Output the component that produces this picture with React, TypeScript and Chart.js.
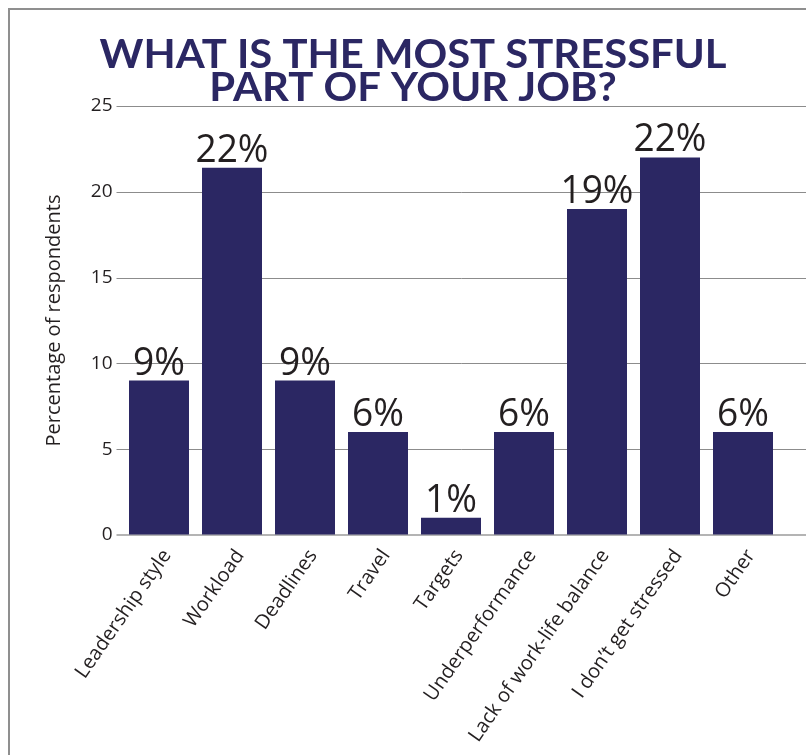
import React, { useEffect, useRef } from 'react';
import { Chart, registerables } from 'chart.js';
Chart.register(...registerables);

const categories = ['Leadership style', 'Workload', 'Deadlines', 'Travel', 'Targets', 'Underperformance', 'Lack of work-life balance', 'I don’t get stressed', 'Other'];
const values = [9, 21.4, 9, 6, 1, 6, 19, 22, 6];
const valueLabels = ['9%', '22%', '9%', '6%', '1%', '6%', '19%', '22%', '6%'];
const titleLines = ['WHAT IS THE MOST STRESSFUL', 'PART OF YOUR JOB?'];
const yAxisTitle = 'Percentage of respondents';
const yMin = 0;
const yMax = 25;
const yStep = 5;

const NAVY = '#2b2763';
const TEXT = '#231f20';
const FONT = '"Open Sans", "Noto Sans", sans-serif';
const TITLE_FONT = 'Lato, "Open Sans", sans-serif';

const framePlugin = {
  id: 'frame',
  beforeDraw(chart: any) {
    const { ctx, width, height } = chart;
    ctx.save();
    ctx.fillStyle = '#ffffff';
    ctx.fillRect(0, 0, width, height);
    ctx.strokeStyle = '#8f8f8f';
    ctx.lineWidth = 2;
    ctx.beginPath();
    ctx.moveTo(9, height);
    ctx.lineTo(9, 9);
    ctx.lineTo(width, 9);
    ctx.stroke();
    ctx.restore();
  },
};

const gridPlugin = {
  id: 'gridFull',
  beforeDatasetsDraw(chart: any) {
    const { ctx, width, chartArea } = chart;
    const y = chart.scales.y;
    ctx.save();
    y.ticks.forEach((t: any) => {
      const zero = t.value === 0;
      const py = zero ? Math.round(y.getPixelForValue(t.value)) : Math.round(y.getPixelForValue(t.value)) + 0.5;
      ctx.strokeStyle = zero ? '#b4b4b4' : '#8c8c8c';
      ctx.lineWidth = zero ? 2 : 1;
      ctx.beginPath();
      ctx.moveTo(chartArea.left - 6, py);
      ctx.lineTo(width, py);
      ctx.stroke();
    });
    ctx.restore();
  },
};

const valueLabelPlugin = {
  id: 'valueLabels',
  afterDatasetsDraw(chart: any) {
    const { ctx } = chart;
    const meta = chart.getDatasetMeta(0);
    ctx.save();
    ctx.font = `39px ${FONT}`;
    ctx.fillStyle = TEXT;
    ctx.textAlign = 'center';
    ctx.textBaseline = 'alphabetic';
    meta.data.forEach((bar: any, i: number) => {
      const text = valueLabels[i];
      const w = ctx.measureText(text).width;
      const target = text.length === 3 ? 73 : 52;
      const sx = target / w;
      ctx.save();
      ctx.translate(bar.x, bar.y - 6);
      ctx.scale(sx, 1);
      ctx.fillText(text, 0, 0);
      ctx.restore();
    });
    ctx.restore();
  },
};

const titlePlugin = {
  id: 'bigTitle',
  afterDraw(chart: any) {
    const { ctx } = chart;
    ctx.save();
    ctx.font = `bold 41px ${TITLE_FONT}`;
    ctx.fillStyle = NAVY;
    ctx.textAlign = 'center';
    ctx.textBaseline = 'alphabetic';
    const w1 = ctx.measureText(titleLines[0]).width;
    const sx = 627 / w1;
    const baselines = [68, 101];
    titleLines.forEach((line, i) => {
      ctx.save();
      ctx.translate(413, baselines[i]);
      ctx.scale(sx, 1);
      ctx.fillText(line, 0, 0);
      ctx.restore();
    });
    ctx.restore();
  },
};

export default function App() {
  const ref = useRef<HTMLCanvasElement | null>(null);
  useEffect(() => {
    if (!ref.current) return;
    const chart = new Chart(ref.current, {
      type: 'bar',
      data: {
        labels: categories,
        datasets: [
          {
            data: values,
            backgroundColor: NAVY,
            borderWidth: 0,
            categoryPercentage: 1,
            barPercentage: 60 / 73,
          },
        ],
      },
      options: {
        responsive: false,
        animation: false,
        layout: { padding: { top: 106, right: 26.5, bottom: 0, left: 0 } },
        plugins: {
          legend: { display: false },
          tooltip: { enabled: false },
          title: { display: false },
        },
        scales: {
          x: {
            grid: { display: false },
            border: { display: false },
            ticks: {
              minRotation: 55,
              maxRotation: 55,
              color: TEXT,
              font: { family: FONT, size: 20 },
              padding: 2,
              labelOffset: 8,
            },
            afterFit(scale: any) {
              scale.height = 220;
            },
          },
          y: {
            min: yMin,
            max: yMax,
            border: { display: false },
            grid: {
              color: 'rgba(0,0,0,0)',
              tickLength: 6,
              drawTicks: true,
            },
            ticks: {
              stepSize: yStep,
              color: TEXT,
              font: { family: FONT, size: 19 },
              padding: 4,
            },
            title: {
              display: true,
              text: yAxisTitle,
              color: TEXT,
              font: { family: FONT, size: 20 },
              padding: { top: 42, bottom: 0 },
            },
            afterFit(scale: any) {
              scale.width = 122.5;
            },
          },
        },
      },
      plugins: [framePlugin, gridPlugin, valueLabelPlugin, titlePlugin],
    });
    return () => chart.destroy();
  }, []);
  return (
    <div style={{ position: 'fixed', left: 0, top: 0, width: 806, height: 755, background: '#fff' }}>
      <canvas ref={ref} width={806} height={755} />
    </div>
  );
}
